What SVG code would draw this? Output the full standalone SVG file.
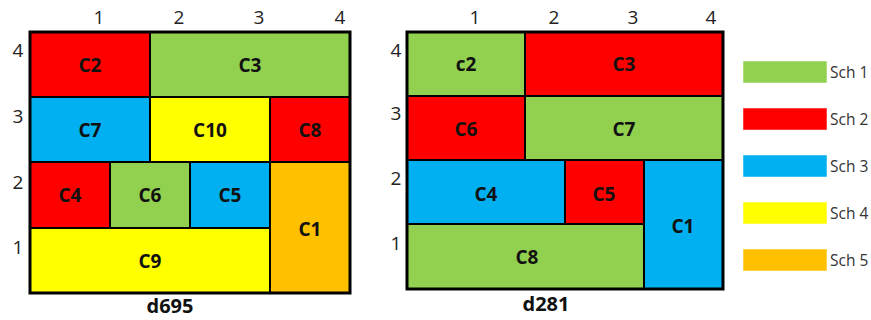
<svg xmlns="http://www.w3.org/2000/svg" width="871" height="320" viewBox="0 0 871 320">
  <style>
    .cell { stroke: #000; stroke-width: 2; }
    .frame { fill: none; stroke: #000; stroke-width: 3; }
    .s1 { fill: #92D050; }
    .s2 { fill: #FF0000; }
    .s3 { fill: #00B0F0; }
    .s4 { fill: #FFFF00; }
    .s5 { fill: #FFC000; }
    .lbl { font-family: "Open Sans", "Liberation Sans", sans-serif; font-weight: bold; font-size: 19px; fill: #111; text-anchor: middle; dominant-baseline: central; }
    .axis { font-family: "Open Sans", "Liberation Sans", sans-serif; font-size: 19px; fill: #222; text-anchor: middle; dominant-baseline: central; }
    .title { font-family: "Open Sans", "Liberation Sans", sans-serif; font-weight: bold; font-size: 20px; fill: #111; text-anchor: middle; }
    .key { stroke: #fff; stroke-opacity: 0.5; stroke-width: 1; }
    .keytxt { font-family: "Open Sans", "Liberation Sans", sans-serif; font-size: 15.5px; fill: #333; dominant-baseline: central; }
  </style>

  <!-- d695 layout -->
  <g id="d695">
    <g class="axis">
      <text x="99" y="17">1</text>
      <text x="179" y="17">2</text>
      <text x="259" y="17">3</text>
      <text x="340" y="17">4</text>
      <text x="18" y="50">4</text>
      <text x="18" y="116">3</text>
      <text x="18" y="182">2</text>
      <text x="18" y="247">1</text>
    </g>
    <g id="d695-C2"><rect class="cell s2" x="30" y="32" width="120" height="65"/><text class="lbl" x="90" y="65">C2</text></g>
    <g id="d695-C3"><rect class="cell s1" x="150" y="32" width="200" height="65"/><text class="lbl" x="250" y="65">C3</text></g>
    <g id="d695-C7"><rect class="cell s3" x="30" y="97" width="120" height="65"/><text class="lbl" x="90" y="130">C7</text></g>
    <g id="d695-C10"><rect class="cell s4" x="150" y="97" width="120" height="65"/><text class="lbl" x="210" y="130">C10</text></g>
    <g id="d695-C8"><rect class="cell s2" x="270" y="97" width="80" height="65"/><text class="lbl" x="310" y="130">C8</text></g>
    <g id="d695-C4"><rect class="cell s2" x="30" y="162" width="80" height="66"/><text class="lbl" x="70" y="195">C4</text></g>
    <g id="d695-C6"><rect class="cell s1" x="110" y="162" width="80" height="66"/><text class="lbl" x="150" y="195">C6</text></g>
    <g id="d695-C5"><rect class="cell s3" x="190" y="162" width="80" height="66"/><text class="lbl" x="230" y="195">C5</text></g>
    <g id="d695-C1"><rect class="cell s5" x="270" y="162" width="80" height="131"/><text class="lbl" x="310" y="229">C1</text></g>
    <g id="d695-C9"><rect class="cell s4" x="30" y="228" width="240" height="65"/><text class="lbl" x="150" y="261">C9</text></g>
    <rect class="frame" x="30" y="32" width="320" height="261"/>
    <text class="title" x="170" y="313">d695</text>
  </g>

  <!-- d281 layout -->
  <g id="d281">
    <g class="axis">
      <text x="475" y="17">1</text>
      <text x="554" y="17">2</text>
      <text x="633" y="17">3</text>
      <text x="711" y="17">4</text>
      <text x="396" y="50">4</text>
      <text x="396" y="113">3</text>
      <text x="396" y="178">2</text>
      <text x="396" y="243">1</text>
    </g>
    <g id="d281-c2"><rect class="cell s1" x="407" y="32" width="118" height="64"/><text class="lbl" x="466" y="64">c2</text></g>
    <g id="d281-C3"><rect class="cell s2" x="525" y="32" width="198" height="64"/><text class="lbl" x="624" y="64">C3</text></g>
    <g id="d281-C6"><rect class="cell s2" x="407" y="96" width="118" height="64"/><text class="lbl" x="466" y="129">C6</text></g>
    <g id="d281-C7"><rect class="cell s1" x="525" y="96" width="198" height="64"/><text class="lbl" x="624" y="129">C7</text></g>
    <g id="d281-C4"><rect class="cell s3" x="407" y="160" width="158" height="64"/><text class="lbl" x="486" y="194">C4</text></g>
    <g id="d281-C5"><rect class="cell s2" x="565" y="160" width="79" height="64"/><text class="lbl" x="604" y="194">C5</text></g>
    <g id="d281-C1"><rect class="cell s3" x="644" y="160" width="79" height="129"/><text class="lbl" x="683" y="226">C1</text></g>
    <g id="d281-C8"><rect class="cell s1" x="407" y="224" width="237" height="65"/><text class="lbl" x="527" y="257">C8</text></g>
    <rect class="frame" x="407" y="32" width="316" height="257"/>
    <text class="title" x="546" y="311">d281</text>
  </g>

  <!-- legend -->
  <g id="legend">
    <g id="key-sch1"><rect class="key s1" x="743" y="61" width="84" height="22"/><text class="keytxt" x="830" y="72">Sch 1</text></g>
    <g id="key-sch2"><rect class="key s2" x="743" y="108" width="84" height="22"/><text class="keytxt" x="830" y="119">Sch 2</text></g>
    <g id="key-sch3"><rect class="key s3" x="743" y="155" width="84" height="22"/><text class="keytxt" x="830" y="166">Sch 3</text></g>
    <g id="key-sch4"><rect class="key s4" x="743" y="202" width="84" height="22"/><text class="keytxt" x="830" y="213">Sch 4</text></g>
    <g id="key-sch5"><rect class="key s5" x="743" y="249" width="84" height="22"/><text class="keytxt" x="830" y="260">Sch 5</text></g>
  </g>
</svg>
